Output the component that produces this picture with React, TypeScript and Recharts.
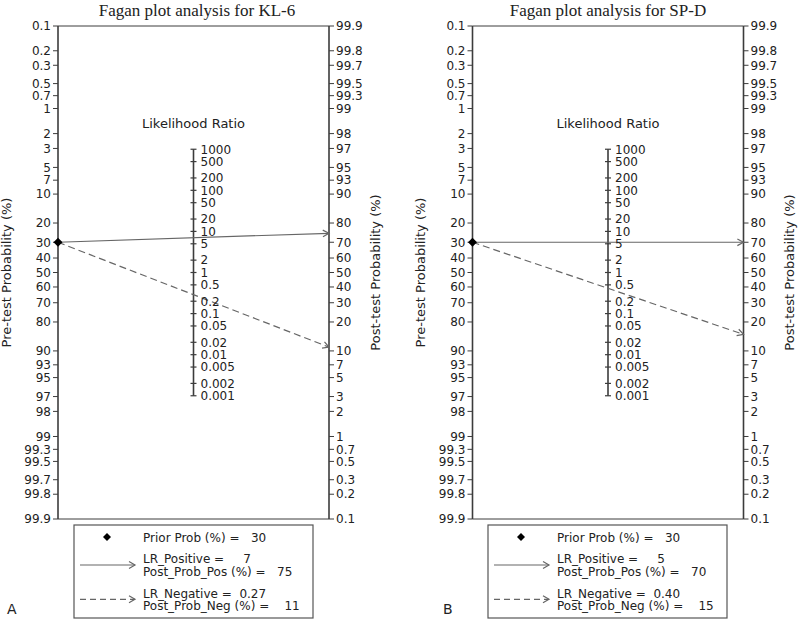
import React from 'react';
import { ComposedChart, Line, Scatter, XAxis, YAxis, ReferenceLine } from 'recharts';

// probability axes (%) and likelihood-ratio scale
const probTicks = [0.1, 0.2, 0.3, 0.5, 0.7, 1, 2, 3, 5, 7, 10, 20, 30, 40, 50, 60, 70, 80, 90, 93, 95, 97, 98, 99, 99.3, 99.5, 99.7, 99.8, 99.9];
const lrTicks = [1000, 500, 200, 100, 50, 20, 10, 5, 2, 1, 0.5, 0.2, 0.1, 0.05, 0.02, 0.01, 0.005, 0.002, 0.001];

// one entry per panel
const markers = ['KL-6', 'SP-D'];
const panelLetters = ['A', 'B'];
const priorProb = [30, 30];
const lrPositive = ['7', '5'];
const postProbPos = [75, 70];
const lrNegative = ['0.27', '0.40'];
const postProbNeg = [11, 15];

const FONT = "'DejaVu Sans', 'Liberation Sans', sans-serif";
const SERIF = "'Liberation Serif', 'Times New Roman', serif";
const TEXT = '#222';
const AXIS = '#3c3c3c';
const LINE = '#666';

const W = 400;
const H = 621;
const TOP = 26;
const BOTTOM = 519;
const AXIS_W = 50;

const layout = [
  { plotLeft: 58, plotRight: 329, title: 197, yLabelL: 10.5, yLabelR: 380, box: 74, letter: 7 },
  { plotLeft: 72.5, plotRight: 343.5, title: 208, yLabelL: 25, yLabelR: 394, box: 88, letter: 43 },
];

const logit = (p: number) => Math.log(p / (100 - p));
const LIM = logit(99.9);

const preTickPos = probTicks.map(p => -logit(p));
const postTickPos = probTicks.map(p => logit(p));
const lrData = lrTicks.map(lr => ({ x: 0.5, u: Math.log(lr) / 2, label: String(lr) }));

const labelFor = (pos: number[]) => (v: number) => {
  const i = pos.findIndex(t => Math.abs(t - v) < 1e-6);
  return i >= 0 ? String(probTicks[i]) : '';
};

const LrTick = (props: any) => {
  const { cx, cy, payload } = props;
  return (
    <g>
      <line x1={cx - 3} x2={cx + 3} y1={cy} y2={cy} stroke={AXIS} strokeWidth={1.2} />
      <text x={cx + 7} y={cy} dy="0.36em" fontSize={12} fill={TEXT} fontFamily={FONT}>
        {payload.label}
      </text>
    </g>
  );
};

const Diamond = (props: any) => {
  const { cx, cy } = props;
  const r = 4.5;
  return <polygon points={`${cx - r},${cy} ${cx},${cy - r} ${cx + r},${cy} ${cx},${cy + r}`} fill="#000" />;
};

const renderArrow = (props: any) => {
  const { key, cx, cy, index, points } = props;
  if (index !== 1) return <g key={key} />;
  const p0 = points && points[0] ? points[0] : { x: cx - 100, y: cy };
  const ang = Math.atan2(cy - p0.y, cx - p0.x);
  const len = 7;
  const spread = 0.5;
  const ax = cx - len * Math.cos(ang - spread);
  const ay = cy - len * Math.sin(ang - spread);
  const bx = cx - len * Math.cos(ang + spread);
  const by = cy - len * Math.sin(ang + spread);
  return (
    <path key={key} d={`M${ax},${ay} L${cx},${cy} L${bx},${by}`} fill="none" stroke={LINE} strokeWidth={1.2} strokeDasharray="none" />
  );
};

const LegendArrow = ({ x1, x2, y, dashed }: { x1: number; x2: number; y: number; dashed?: boolean }) => (
  <g>
    <line x1={x1} x2={x2} y1={y} y2={y} stroke={LINE} strokeWidth={1.2} strokeDasharray={dashed ? '6 4' : undefined} />
    <path d={`M${x2 - 6},${y - 3.5} L${x2},${y} L${x2 - 6},${y + 3.5}`} fill="none" stroke={LINE} strokeWidth={1.2} />
  </g>
);

function FaganPanel({ i }: { i: number }) {
  const L = layout[i];
  const uPrior = -logit(priorProb[i]);
  const posLine = [{ x: 0, u: uPrior }, { x: 1, u: logit(postProbPos[i]) }];
  const negLine = [{ x: 0, u: uPrior }, { x: 1, u: logit(postProbNeg[i]) }];
  const mid = (L.plotLeft + L.plotRight) / 2;
  const bx = L.box;
  const midY = (TOP + BOTTOM) / 2;

  const tickStyle = { fontSize: 12, fill: TEXT, fontFamily: FONT };

  return (
    <div style={{ position: 'relative', width: W, height: H }}>
      <ComposedChart
        width={W}
        height={H}
        margin={{ top: TOP, bottom: H - BOTTOM, left: L.plotLeft - AXIS_W, right: W - L.plotRight - AXIS_W }}
      >
        <XAxis type="number" dataKey="x" domain={[0, 1]} hide />
        <YAxis
          yAxisId="pre"
          type="number"
          domain={[-LIM, LIM]}
          ticks={preTickPos}
          interval={0}
          width={AXIS_W}
          tickFormatter={labelFor(preTickPos)}
          tick={tickStyle}
          tickSize={5}
          tickMargin={2}
          axisLine={{ stroke: AXIS, strokeWidth: 1.6 }}
          tickLine={{ stroke: AXIS }}
        />
        <YAxis
          yAxisId="post"
          orientation="right"
          type="number"
          domain={[-LIM, LIM]}
          ticks={postTickPos}
          interval={0}
          width={AXIS_W}
          tickFormatter={labelFor(postTickPos)}
          tick={tickStyle}
          tickSize={5}
          tickMargin={2}
          axisLine={{ stroke: AXIS, strokeWidth: 1.6 }}
          tickLine={{ stroke: AXIS }}
        />
        <ReferenceLine yAxisId="pre" y={LIM} stroke={AXIS} strokeWidth={1} />
        <ReferenceLine yAxisId="pre" y={-LIM} stroke={AXIS} strokeWidth={1} />
        <ReferenceLine
          yAxisId="post"
          segment={[{ x: 0.5, y: lrData[0].u }, { x: 0.5, y: lrData[lrData.length - 1].u }]}
          stroke={AXIS}
          strokeWidth={1.6}
        />
        <Scatter yAxisId="post" data={lrData} dataKey="u" shape={LrTick} isAnimationActive={false} />
        <Line
          yAxisId="pre"
          data={posLine}
          dataKey="u"
          type="linear"
          stroke={LINE}
          strokeWidth={1.2}
          dot={renderArrow}
          activeDot={false}
          isAnimationActive={false}
        />
        <Line
          yAxisId="pre"
          data={negLine}
          dataKey="u"
          type="linear"
          stroke={LINE}
          strokeWidth={1.2}
          strokeDasharray="7 4"
          dot={renderArrow}
          activeDot={false}
          isAnimationActive={false}
        />
        <Scatter yAxisId="pre" data={[{ x: 0, u: uPrior }]} dataKey="u" shape={Diamond} isAnimationActive={false} />
      </ComposedChart>

      <svg width={W} height={H} style={{ position: 'absolute', left: 0, top: 0, pointerEvents: 'none' }}>
        <text x={L.title} y={16} textAnchor="middle" fontFamily={SERIF} fontSize={17} fill={TEXT}>
          Fagan plot analysis for {markers[i]}
        </text>
        <text x={mid} y={128} textAnchor="middle" fontFamily={FONT} fontSize={13} fill={TEXT}>
          Likelihood Ratio
        </text>
        <text
          x={L.yLabelL}
          y={midY}
          textAnchor="middle"
          fontFamily={FONT}
          fontSize={13}
          fill={TEXT}
          transform={`rotate(-90 ${L.yLabelL} ${midY})`}
        >
          Pre-test Probability (%)
        </text>
        <text
          x={L.yLabelR}
          y={midY}
          textAnchor="middle"
          fontFamily={FONT}
          fontSize={13}
          fill={TEXT}
          transform={`rotate(-90 ${L.yLabelR} ${midY})`}
        >
          Post-test Probability (%)
        </text>

        <rect x={bx} y={525} width={239} height={93} fill="#fff" stroke="#555" strokeWidth={1.2} />
        <polygon points={`${bx + 29},537 ${bx + 33},533 ${bx + 37},537 ${bx + 33},541`} fill="#000" />
        <g fontFamily={FONT} fontSize={12} fill={TEXT} style={{ whiteSpace: 'pre' }}>
          <text x={bx + 69} y={541.5} xmlSpace="preserve">{`Prior Prob (%) =   ${priorProb[i]}`}</text>
          <text x={bx + 69} y={563.3} xmlSpace="preserve">{`LR_Positive =     ${lrPositive[i]}`}</text>
          <text x={bx + 69} y={576} xmlSpace="preserve">{`Post_Prob_Pos (%) =   ${postProbPos[i]}`}</text>
          <text x={bx + 69} y={597.7} xmlSpace="preserve">{`LR_Negative =  ${lrNegative[i]}`}</text>
          <text x={bx + 69} y={610} xmlSpace="preserve">{`Post_Prob_Neg (%) =    ${postProbNeg[i]}`}</text>
        </g>
        <LegendArrow x1={bx + 6} x2={bx + 61} y={565} />
        <LegendArrow x1={bx + 6} x2={bx + 61} y={599.3} dashed />

        <text x={L.letter} y={613.5} fontFamily={FONT} fontSize={14} fill={TEXT}>
          {panelLetters[i]}
        </text>
      </svg>
    </div>
  );
}

export default function App() {
  return (
    <div style={{ width: 800, height: 621, display: 'flex', background: '#fff' }}>
      <style>{'body{margin:0}'}</style>
      <FaganPanel i={0} />
      <FaganPanel i={1} />
    </div>
  );
}
